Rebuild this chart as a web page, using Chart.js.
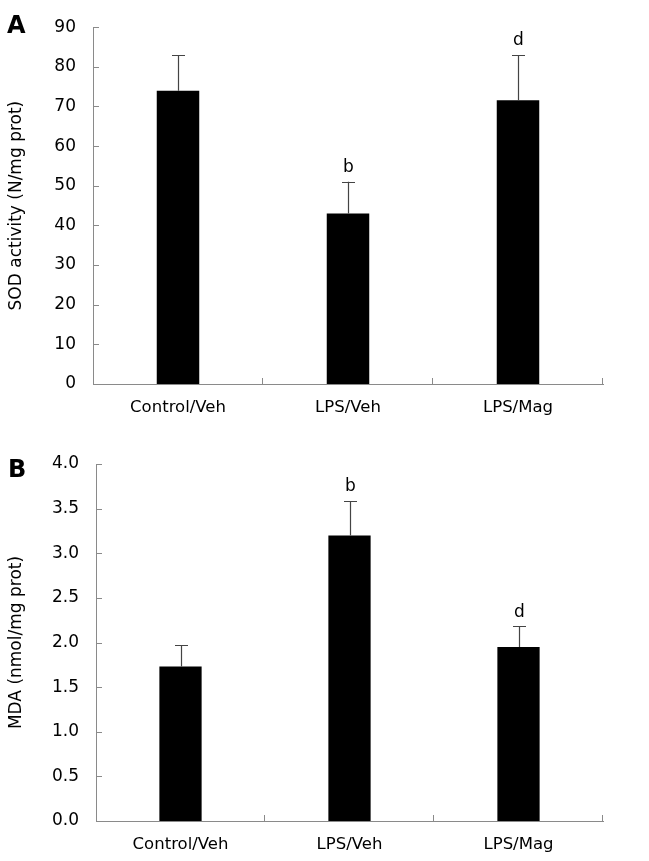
<!DOCTYPE html>
<html>
<head>
<meta charset="utf-8">
<script src="https://cdn.jsdelivr.net/npm/chart.js@4.4.0/dist/chart.umd.min.js"></script>
<style>
  body { margin: 0; background: #fff; }
  .panel { position: absolute; left: 0; width: 649px; }
  .tag { position: absolute; font: bold 24px "DejaVu Sans", sans-serif; color: #000; }
</style>
</head>
<body>
<div class="panel" style="top:0;height:430px"><canvas id="chartA"></canvas></div>
<div class="panel" style="top:430px;height:431px"><canvas id="chartB"></canvas></div>
<div class="tag" style="left:7px;top:11px">A</div>
<div class="tag" style="left:8px;top:455px">B</div>
<script>
// groups
const categories = ['Control/Veh', 'LPS/Veh', 'LPS/Mag'];

// panel A - SOD
const sodMean = [74, 43, 71.6];
const sodErr = [9, 8, 11.4];
const sodMarks = ['', 'b', 'd'];

// panel B - MDA
const mdaMean = [1.73, 3.2, 1.95];
const mdaErr = [0.24, 0.385, 0.23];
const mdaMarks = ['', 'b', 'd'];

const axisGrey = '#8a8a8a';
const font = '"DejaVu Sans", sans-serif';

// error bars (upper half only) + significance letters
const errorBars = {
    id: 'errorBars',
    afterDatasetsDraw(chart, args, opts) {
        const ctx = chart.ctx;
        const y = chart.scales.y;
        const meta = chart.getDatasetMeta(0);
        ctx.save();
        ctx.strokeStyle = '#444';
        ctx.lineWidth = 1.2;
        meta.data.forEach((bar, i) => {
            const x = Math.round(bar.x) + 0.5;
            const top = y.getPixelForValue(opts.mean[i] + opts.err[i]);
            ctx.beginPath();
            ctx.moveTo(x, bar.y);
            ctx.lineTo(x, top);
            ctx.moveTo(x - 6.5, Math.round(top) + 0.5);
            ctx.lineTo(x + 6.5, Math.round(top) + 0.5);
            ctx.stroke();
            if (opts.marks[i]) {
                ctx.fillStyle = '#000';
                ctx.font = '17px ' + font;
                ctx.textAlign = 'center';
                ctx.textBaseline = 'middle';
                ctx.fillText(opts.marks[i], x, top - 14);
            }
        });
        ctx.restore();
    }
};

// small tick marks pointing into the plot
const insideTicks = {
    id: 'insideTicks',
    afterDraw(chart) {
        const ctx = chart.ctx;
        const xs = chart.scales.x, ys = chart.scales.y;
        const area = chart.chartArea;
        ctx.save();
        ctx.strokeStyle = axisGrey;
        ctx.lineWidth = 1;
        ctx.beginPath();
        ys.ticks.forEach(t => {
            const py = Math.round(ys.getPixelForValue(t.value)) + 0.5;
            ctx.moveTo(area.left, py);
            ctx.lineTo(area.left + 6, py);
        });
        const step = (xs.right - xs.left) / categories.length;
        for (let i = 1; i <= categories.length; i++) {
            const px = Math.round(xs.left + i * step) - 0.5;
            ctx.moveTo(px, area.bottom);
            ctx.lineTo(px, area.bottom - 6);
        }
        ctx.stroke();
        ctx.restore();
    }
};

function makeChart(id, mean, err, marks, yMax, step, decimals, title, padTop, yWidth, xHeight) {
    return new Chart(document.getElementById(id), {
        type: 'bar',
        data: {
            labels: categories,
            datasets: [{
                data: mean,
                backgroundColor: '#000',
                borderWidth: 0,
                categoryPercentage: 1,
                barPercentage: 0.25
            }]
        },
        options: {
            responsive: true,
            maintainAspectRatio: false,
            animation: false,
            layout: { padding: { top: padTop, right: 46, left: 0, bottom: 0 } },
            plugins: {
                legend: { display: false },
                tooltip: { enabled: false },
                errorBars: { mean: mean, err: err, marks: marks }
            },
            scales: {
                x: {
                    grid: { display: false, drawTicks: false },
                    border: { color: axisGrey, width: 1 },
                    ticks: { color: '#000', font: { family: font, size: 16.5 }, padding: 14 },
                    afterFit(s) { s.height = xHeight; }
                },
                y: {
                    min: 0,
                    max: yMax,
                    grid: { display: false, drawTicks: false },
                    border: { color: axisGrey, width: 1 },
                    ticks: {
                        stepSize: step,
                        color: '#000',
                        font: { family: font, size: 17 },
                        padding: 17,
                        callback: v => v.toFixed(decimals)
                    },
                    title: {
                        display: true,
                        text: title,
                        color: '#000',
                        font: { family: font, size: 17 },
                        padding: { top: 6, bottom: 0 }
                    },
                    afterFit(s) { s.width = yWidth; }
                }
            }
        },
        plugins: [errorBars, insideTicks]
    });
}

makeChart('chartA', sodMean, sodErr, sodMarks, 90, 10, 0, 'SOD activity (N/mg prot)', 23, 93, 46);
makeChart('chartB', mdaMean, mdaErr, mdaMarks, 4, 0.5, 1, 'MDA (nmol/mg prot)', 34, 96, 40);
</script>
</body>
</html>
